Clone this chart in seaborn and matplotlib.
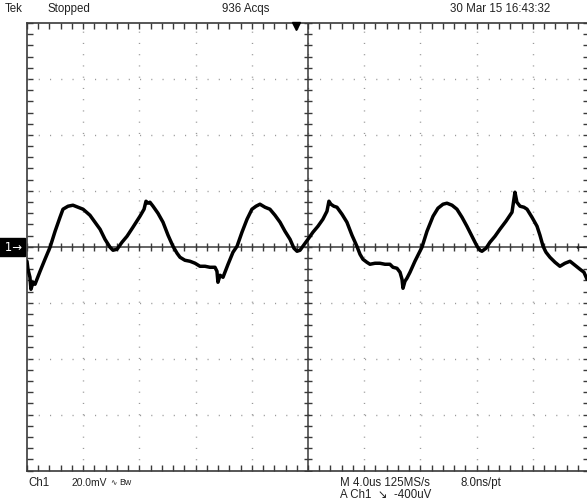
import numpy as np
import matplotlib
matplotlib.use("Agg")
import matplotlib.pyplot as plt
import seaborn as sns
import pandas as pd

# ---- data (time in us, voltage in mV) ----
t_us = [0.00, 0.07, 0.21, 0.28, 0.43, 0.57, 0.71, 0.93, 1.28, 1.64, 2.00, 2.35, 2.56, 2.92,
        3.27, 3.63, 3.99, 4.48, 5.20, 5.55, 5.91, 6.12, 6.41, 6.76, 7.12, 7.54, 8.04, 8.33,
        8.47, 8.61, 8.75, 8.97, 9.32, 9.68, 10.04, 10.39, 10.68, 10.89, 11.24, 11.60, 11.96,
        12.31, 12.67, 13.02, 13.38, 13.52, 13.59, 13.74, 13.95, 14.31, 14.66, 14.95, 15.30,
        15.66, 16.01, 16.30, 16.58, 16.94, 17.29, 17.65, 18.01, 18.36, 18.72, 19.00, 19.22,
        19.43, 19.64, 20.00, 20.35, 20.71, 21.06, 21.35, 21.49, 21.63, 21.84, 22.06, 22.42,
        22.77, 23.13, 23.48, 23.70, 23.91, 24.19, 24.41, 24.77, 25.12, 25.48, 25.83, 26.05,
        26.33, 26.55, 26.69, 26.76, 26.90, 27.04, 27.26, 27.61, 27.97, 28.11, 28.47, 28.90,
        29.25, 29.61, 29.89, 30.25, 30.60, 30.96, 31.31, 31.67, 32.03, 32.24, 32.38, 32.67,
        32.95, 33.31, 33.66, 34.09, 34.52, 34.66, 34.73, 34.87, 35.09, 35.37, 35.59, 35.94,
        36.30, 36.51, 36.73, 36.94, 37.22, 37.58, 37.93, 38.29, 38.65, 39.00, 39.36, 39.64,
        39.86]
v_mV = [-5.19, -8.05, -10.91, -15.21, -12.70, -13.42, -11.63, -8.77, -4.47, -0.18, 5.55,
        10.56, 13.42, 14.49, 14.85, 14.13, 13.42, 11.27, 6.26, 2.68, -0.18, -1.25, -0.89,
        1.61, 3.76, 6.98, 10.91, 13.42, 16.28, 15.57, 15.92, 14.49, 11.99, 8.77, 4.11, 0.18,
        -2.33, -3.76, -4.83, -5.19, -5.90, -6.98, -6.98, -7.34, -7.34, -8.77, -12.70, -10.20,
        -10.91, -6.26, -1.97, 0.18, 5.19, 9.84, 13.42, 14.49, 15.21, 14.13, 13.42, 11.27,
        8.77, 5.55, 2.68, -0.54, -1.61, -1.25, 0.18, 2.68, 5.19, 7.34, 9.84, 12.70, 16.28,
        15.21, 14.49, 14.13, 11.63, 8.77, 4.11, 0.18, -2.68, -4.47, -5.55, -6.26, -5.90,
        -5.90, -6.26, -6.26, -7.34, -7.69, -9.12, -11.63, -14.85, -12.34, -11.27, -9.12,
        -5.19, -1.61, -0.18, 5.55, 10.91, 13.78, 15.21, 15.57, 14.85, 13.42, 10.56, 7.34,
        3.76, 0.18, -1.25, -1.61, -0.54, 1.61, 3.76, 6.26, 9.12, 12.34, 17.00, 19.50, 15.92,
        14.49, 14.13, 13.42, 10.56, 7.34, 4.11, 0.18, -1.97, -3.76, -5.55, -6.98, -5.90,
        -5.19, -6.62, -8.05, -9.12, -11.63]

us_per_div = 4.0
mv_per_div = 20.0
n_xdiv = 10
n_ydiv = 8

top_labels = ["Tek", "Stopped", "936 Acqs", "30 Mar 15 16:43:32"]
bottom_line1 = ["Ch1", "20.0mV", "\u223f", "Bw", "M 4.0us 125MS/s", "8.0ns/pt"]
bottom_line2 = "A Ch1  \u2198  -400uV"

sns.set_theme(style="white")
plt.rcParams['font.family'] = ['Liberation Sans', 'DejaVu Sans']

W, H = 587, 502
fig = plt.figure(figsize=(W / 100, H / 100), dpi=100, facecolor="white")
left_px, right_px, top_px, bot_px = 27, 589, 24, 471.5
ax = fig.add_axes([left_px / W, 1 - bot_px / H, (right_px - left_px) / W, (bot_px - top_px) / H])
ax.set_facecolor("white")

xmax = us_per_div * n_xdiv
ymax = mv_per_div * n_ydiv / 2
ax.set_xlim(0, xmax)
ax.set_ylim(-ymax, ymax)

# dotted graticule
grid_gray = "#9a9a9a"
for k in range(1, n_xdiv):
    ax.axvline(k * us_per_div, color=grid_gray, lw=1.0, linestyle=(0, (0.8, 7.3)), zorder=1)
for k in range(1, n_ydiv):
    ax.axhline(-ymax + k * mv_per_div, color=grid_gray, lw=1.0, linestyle=(0, (0.8, 7.3)), zorder=1)

# center crosshair with minor ticks
frame_col = "#3a3a3a"
ax.axhline(0, color=frame_col, lw=1.1, zorder=2)
ax.axvline(xmax / 2, color=frame_col, lw=1.1, zorder=2)
xm = np.arange(0, xmax + 1e-9, us_per_div / 5)
ym = np.arange(-ymax, ymax + 1e-9, mv_per_div / 5)
ax.plot(xm, np.zeros_like(xm), linestyle="none", marker="|", ms=6, mew=1.0, color=frame_col, zorder=2)
ax.plot(np.full_like(ym, xmax / 2), ym, linestyle="none", marker="_", ms=6, mew=1.0, color=frame_col, zorder=2)

# border ticks
ax.set_xticks(np.arange(0, xmax + 1e-9, us_per_div))
ax.set_xticks(xm, minor=True)
ax.set_yticks(np.arange(-ymax, ymax + 1e-9, mv_per_div))
ax.set_yticks(ym, minor=True)
ax.tick_params(which="both", direction="in", top=True, right=True, bottom=True, left=True,
               labelbottom=False, labelleft=False, color=frame_col, width=1.0)
ax.tick_params(which="major", length=4.5)
ax.tick_params(which="minor", length=4)
for s in ax.spines.values():
    s.set_color(frame_col)
    s.set_linewidth(1.2)

# trace
df = pd.DataFrame({"t": t_us, "v": v_mV})
sns.lineplot(data=df, x="t", y="v", ax=ax, sort=False, estimator=None, color="black",
             lw=2.5, zorder=5)
ax.set_xlabel("")
ax.set_ylabel("")

# texts
fs = 8.3
tc = "#222"
ty = 1 - 9 / H
fig.text(5 / W, ty, top_labels[0], fontsize=fs, va="center", color=tc)
fig.text(48 / W, ty, top_labels[1], fontsize=fs, va="center", color=tc)
fig.text(222 / W, ty, top_labels[2], fontsize=fs, va="center", color=tc)
fig.text(450 / W, ty, top_labels[3], fontsize=fs, va="center", color=tc)

by1 = 1 - 483 / H
by2 = 1 - 495 / H
fig.text(28 / W, by1, bottom_line1[0], fontsize=fs, va="center", color=tc)
fig.text(72 / W, by1, bottom_line1[1], fontsize=7.4, va="center", color=tc)
fig.text(110 / W, by1, bottom_line1[2], fontsize=5.5, va="center", color=tc,
         family=["DejaVu Sans"])
fig.text(119 / W, by1, bottom_line1[3], fontsize=6.3, va="center", color=tc)
fig.text(340 / W, by1, bottom_line1[4], fontsize=fs, va="center", color=tc)
fig.text(460 / W, by1, bottom_line1[5], fontsize=fs, va="center", color=tc)
fig.text(340 / W, by2, bottom_line2, fontsize=fs, va="center", color=tc,
         family=["Liberation Sans", "DejaVu Sans"])

# channel marker, trigger markers
fig.text(1 / W, 1 - 248 / H, " 1\u2192", fontsize=8.5, va="center", ha="left", color="white",
         family=["DejaVu Sans"],
         bbox=dict(boxstyle="square,pad=0.25", facecolor="black", edgecolor="black"))
fig.text(575 / W, 1 - 248 / H, "\u2190", fontsize=8, va="center", ha="left", color=tc,
         family=["DejaVu Sans"])
fig.lines.append(plt.Line2D([296 / W], [1 - 27 / H], marker="v", ms=6, color="black",
                            transform=fig.transFigure, linestyle="none"))

fig.savefig("out.png", dpi=100, facecolor="white")
